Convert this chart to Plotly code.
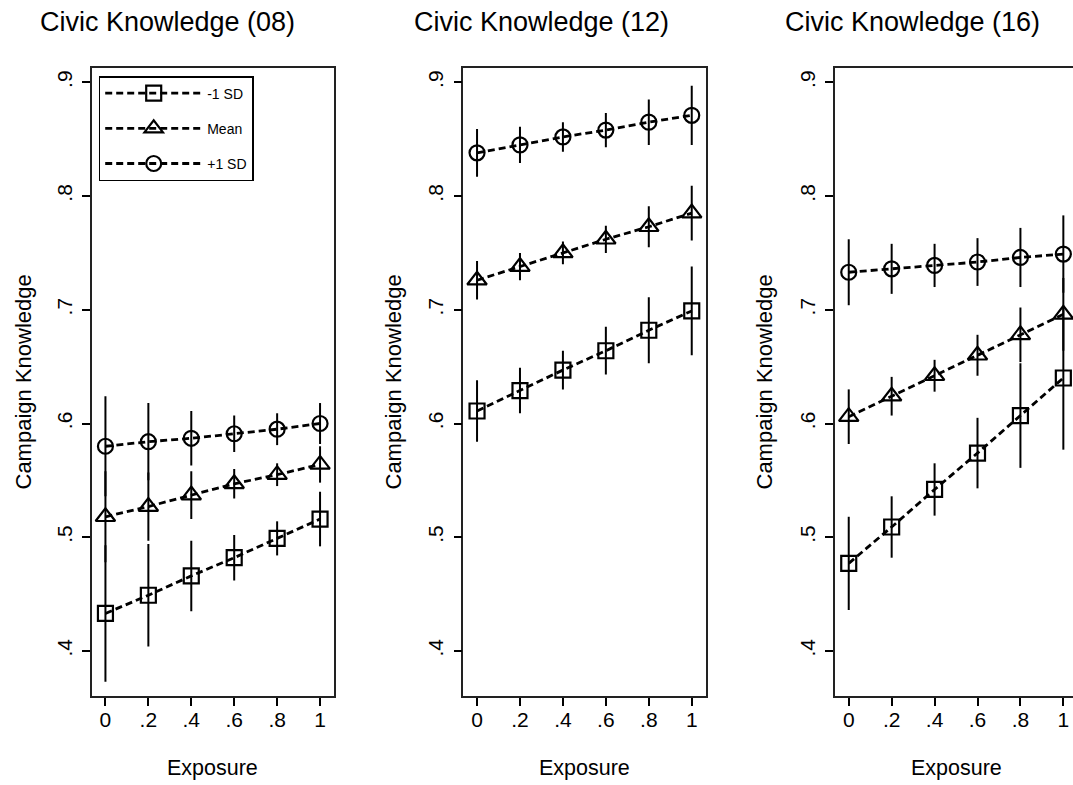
import plotly.graph_objects as go

# ---------------- data ----------------
exposure = [0.0, 0.2, 0.4, 0.6, 0.8, 1.0]
x_tick_vals = [0, 0.2, 0.4, 0.6, 0.8, 1.0]
x_tick_text = ["0", ".2", ".4", ".6", ".8", "1"]
y_tick_vals = [0.4, 0.5, 0.6, 0.7, 0.8, 0.9]
y_tick_text = [".4", ".5", ".6", ".7", ".8", ".9"]

series_names = ["-1 SD", "Mean", "+1 SD"]
panel_titles = ["Civic Knowledge (08)", "Civic Knowledge (12)", "Civic Knowledge (16)"]

# Civic Knowledge (08)
low08 = [0.433, 0.449, 0.466, 0.482, 0.499, 0.516]
low08_ci = [0.060, 0.045, 0.031, 0.020, 0.015, 0.024]
mean08 = [0.518, 0.527, 0.537, 0.547, 0.555, 0.564]
mean08_ci = [0.040, 0.030, 0.021, 0.013, 0.010, 0.016]
high08 = [0.580, 0.584, 0.587, 0.591, 0.595, 0.600]
high08_ci = [0.044, 0.034, 0.024, 0.016, 0.014, 0.018]

# Civic Knowledge (12)
low12 = [0.611, 0.629, 0.647, 0.664, 0.682, 0.699]
low12_ci = [0.027, 0.020, 0.017, 0.021, 0.029, 0.039]
mean12 = [0.726, 0.738, 0.750, 0.762, 0.773, 0.785]
mean12_ci = [0.017, 0.012, 0.010, 0.012, 0.018, 0.024]
high12 = [0.838, 0.845, 0.852, 0.858, 0.865, 0.871]
high12_ci = [0.021, 0.016, 0.013, 0.015, 0.020, 0.026]

# Civic Knowledge (16)
low16 = [0.477, 0.509, 0.542, 0.574, 0.607, 0.640]
low16_ci = [0.041, 0.027, 0.023, 0.031, 0.046, 0.063]
mean16 = [0.606, 0.624, 0.642, 0.660, 0.678, 0.696]
mean16_ci = [0.024, 0.017, 0.014, 0.018, 0.024, 0.032]
high16 = [0.733, 0.736, 0.739, 0.742, 0.746, 0.749]
high16_ci = [0.029, 0.022, 0.019, 0.021, 0.026, 0.034]

panels = [
    [(low08, low08_ci), (mean08, mean08_ci), (high08, high08_ci)],
    [(low12, low12_ci), (mean12, mean12_ci), (high12, high12_ci)],
    [(low16, low16_ci), (mean16, mean16_ci), (high16, high16_ci)],
]

# ---------------- layout geometry (pixels) ----------------
W, H = 1073, 785
FONT = "Liberation Sans, Arial, Helvetica, sans-serif"
plot_left = [91.7, 463.3, 835.0]
plot_right = [334.0, 705.7, 1073.0]
plot_top, plot_bottom = 68.0, 696.0
x_ranges = [[-0.064, 1.065], [-0.064, 1.065], [-0.064, 1.045]]
y_range = [0.3604, 0.9126]
title_cx = [167.0, 541.0, 912.0]
ytitle_cx = [22.5, 392.5, 763.5]

symbols = ["square-open", "triangle-up-open", "circle-open"]
sizes = [15, 17, 15]

fig = go.Figure()

for p, series in enumerate(panels):
    xa = "x" if p == 0 else f"x{p+1}"
    ya = "y" if p == 0 else f"y{p+1}"
    for s, (vals, ci) in enumerate(series):
        fig.add_trace(go.Scatter(
            x=exposure, y=vals,
            mode="lines+markers",
            name=series_names[s],
            legendgroup=series_names[s],
            showlegend=(p == 0),
            line=dict(color="black", width=2.8, dash="7px,4px"),
            marker=dict(symbol=symbols[s], size=sizes[s], color="black",
                        line=dict(color="black", width=2.2)),
            error_y=dict(type="data", array=ci, visible=True, color="black",
                         thickness=2, width=0),
            xaxis=xa, yaxis=ya,
        ))

layout = dict(
    width=W, height=H,
    margin=dict(l=0, r=0, t=0, b=0),
    paper_bgcolor="white", plot_bgcolor="white",
    font=dict(family=FONT, color="black"),
    showlegend=True,
    legend=dict(
        x=98.7 / W, y=1 - 76 / H, xanchor="left", yanchor="top",
        bgcolor="white", bordercolor="black", borderwidth=1.5,
        font=dict(size=14, family=FONT, color="black"),
        itemwidth=97, tracegroupgap=14, traceorder="grouped",
    ),
)

annotations = []
for p in range(3):
    xkey = "xaxis" if p == 0 else f"xaxis{p+1}"
    ykey = "yaxis" if p == 0 else f"yaxis{p+1}"
    xa = "x" if p == 0 else f"x{p+1}"
    ya = "y" if p == 0 else f"y{p+1}"
    layout[xkey] = dict(
        domain=[plot_left[p] / W, plot_right[p] / W],
        range=x_ranges[p], anchor=ya,
        tickmode="array", tickvals=x_tick_vals, ticktext=x_tick_text,
        ticks="outside", ticklen=8, tickwidth=1.5, tickcolor="black",
        showline=True, mirror=True, linecolor="#222", linewidth=1.6,
        showgrid=False, zeroline=False,
        tickfont=dict(size=21, family=FONT, color="black"),
        ticklabelstandoff=-4,
    )
    layout[ykey] = dict(
        domain=[1 - plot_bottom / H, 1 - plot_top / H],
        range=y_range, anchor=xa,
        tickmode="array", tickvals=y_tick_vals, ticktext=y_tick_text,
        ticks="outside", ticklen=8, tickwidth=1.5, tickcolor="black",
        tickangle=-90,
        showline=True, mirror=(p < 2), linecolor="#222", linewidth=1.6,
        showgrid=False, zeroline=False,
        tickfont=dict(size=21, family=FONT, color="black"),
        ticklabelstandoff=2,
    )
    # panel title
    annotations.append(dict(
        text=panel_titles[p], xref="paper", yref="paper",
        x=title_cx[p] / W, y=1 - 21.7 / H, xanchor="center", yanchor="middle",
        showarrow=False, font=dict(size=27, family=FONT, color="black"),
    ))
    # x axis title
    annotations.append(dict(
        text="Exposure", xref="paper", yref="paper",
        x=(plot_left[p] + (plot_left[p] + 242.3)) / 2 / W, y=1 - 767.7 / H,
        xanchor="center", yanchor="middle",
        showarrow=False, font=dict(size=21.5, family=FONT, color="black"),
    ))
    # y axis title
    annotations.append(dict(
        text="Campaign Knowledge", xref="paper", yref="paper",
        x=ytitle_cx[p] / W, y=1 - (plot_top + plot_bottom) / 2 / H,
        xanchor="center", yanchor="middle", textangle=-90,
        showarrow=False, font=dict(size=22, family=FONT, color="black"),
    ))

layout["annotations"] = annotations
fig.update_layout(**layout)

fig.write_html("out.html")
